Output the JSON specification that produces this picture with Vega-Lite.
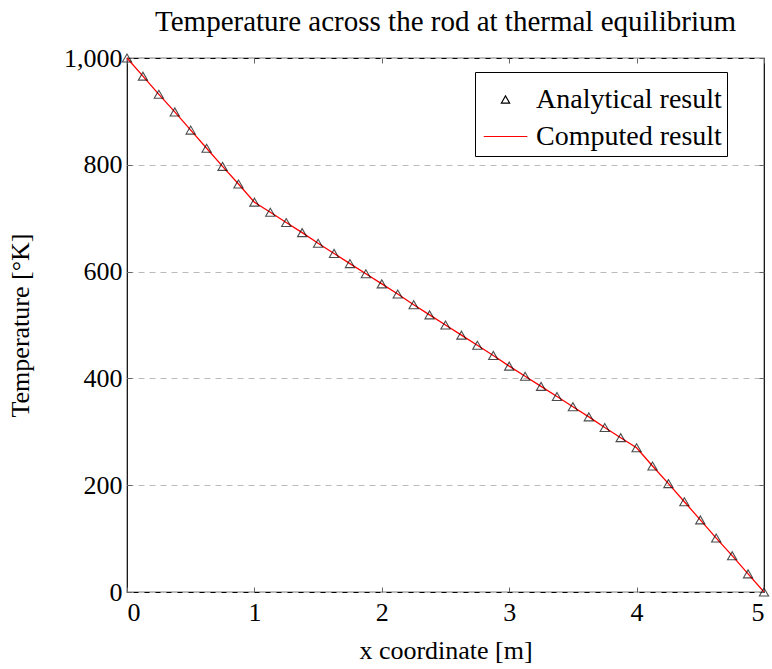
{
  "$schema": "https://vega.github.io/schema/vega-lite/v6.json",
  "autosize": "none",
  "width": 637,
  "height": 534,
  "padding": {"left": 127, "top": 58, "right": 8, "bottom": 77},
  "background": "white",
  "config": {
    "font": "Liberation Serif",
    "view": {"stroke": "black", "strokeWidth": 1.2},
    "axis": {"labelFont": "Liberation Serif", "titleFont": "Liberation Serif", "labelFontSize": 26, "titleFontSize": 26, "titleFontWeight": "normal", "labelColor": "black", "titleColor": "black", "domainColor": "black", "tickColor": "#666666", "tickSize": -5, "labelPadding": 12}
  },
  "title": {"text": "Temperature across the rod at thermal equilibrium", "fontSize": 29, "font": "Liberation Serif", "fontWeight": "normal", "offset": 8, "color": "black"},
  "data": {"values": [
    {"x": 0, "T": 1000}, {"x": 0.125, "T": 966}, {"x": 0.25, "T": 932}, {"x": 0.375, "T": 899}, {"x": 0.5, "T": 865},
    {"x": 0.625, "T": 831}, {"x": 0.75, "T": 797}, {"x": 0.875, "T": 764}, {"x": 1, "T": 730},
    {"x": 1.125, "T": 711}, {"x": 1.25, "T": 692}, {"x": 1.375, "T": 673}, {"x": 1.5, "T": 653},
    {"x": 1.625, "T": 634}, {"x": 1.75, "T": 615}, {"x": 1.875, "T": 596}, {"x": 2, "T": 577},
    {"x": 2.125, "T": 558}, {"x": 2.25, "T": 538}, {"x": 2.375, "T": 519}, {"x": 2.5, "T": 500},
    {"x": 2.625, "T": 481}, {"x": 2.75, "T": 462}, {"x": 2.875, "T": 443}, {"x": 3, "T": 423},
    {"x": 3.125, "T": 404}, {"x": 3.25, "T": 385}, {"x": 3.375, "T": 366}, {"x": 3.5, "T": 347},
    {"x": 3.625, "T": 328}, {"x": 3.75, "T": 308}, {"x": 3.875, "T": 289}, {"x": 4, "T": 270},
    {"x": 4.125, "T": 236}, {"x": 4.25, "T": 203}, {"x": 4.375, "T": 169}, {"x": 4.5, "T": 135},
    {"x": 4.625, "T": 101}, {"x": 4.75, "T": 68}, {"x": 4.875, "T": 34}, {"x": 5, "T": 0}
  ]},
  "resolve": {"axis": {"x": "independent", "y": "independent"}},
  "layer": [
    {
      "mark": {"type": "line", "strokeWidth": 1.3, "clip": false},
      "encoding": {
        "x": {"field": "x", "type": "quantitative", "scale": {"domain": [0, 5], "nice": false},
              "axis": {"orient": "bottom", "values": [0, 1, 2, 3, 4, 5], "title": "x coordinate [m]", "titlePadding": 12, "grid": false, "domain": false}},
        "y": {"field": "T", "type": "quantitative", "scale": {"domain": [0, 1000], "nice": false},
              "axis": {"orient": "left", "values": [0, 200, 400, 600, 800, 1000], "labelExpr": "format(datum.value, ',')", "title": "Temperature [°K]", "titlePadding": 30, "grid": true, "gridDash": [6, 5], "gridColor": "#bbbbbb", "gridWidth": 1, "domain": false, "labelPadding": 10}},
        "color": {"datum": "Computed result", "type": "nominal",
                  "scale": {"domain": ["Analytical result", "Computed result"], "range": ["black", "red"]},
                  "legend": {"title": null, "orient": "none", "legendX": 348, "legendY": 14,
                             "strokeColor": "black", "fillColor": "white", "padding": 5,
                             "labelFontSize": 28, "labelFont": "Liberation Serif", "labelColor": "black", "labelLimit": 500,
                             "labelExpr": "datum.label + '\u00a0\u00a0'",
                             "symbolSize": 600, "symbolOffset": 3, "rowPadding": -7, "labelOffset": 8,
                             "encode": {"symbols": {"update": {
                               "shape": {"signal": "datum.value === 'Analytical result' ? 'triangle-up' : 'stroke'"},
                               "size": {"signal": "datum.value === 'Analytical result' ? 70 : 1900"},
                               "stroke": {"signal": "datum.value === 'Analytical result' ? 'black' : 'red'"},
                               "strokeWidth": {"value": 1.1},
                               "fill": {"value": "transparent"}
                             }}}}}
      }
    },
    {
      "mark": {"type": "point", "shape": "triangle-up", "filled": false, "size": 85, "strokeWidth": 1.1, "clip": false},
      "encoding": {
        "x": {"field": "x", "type": "quantitative",
              "axis": {"orient": "top", "values": [0, 1, 2, 3, 4, 5], "labels": false, "title": null, "grid": false, "domain": false}},
        "y": {"field": "T", "type": "quantitative",
              "axis": {"orient": "right", "values": [0, 200, 400, 600, 800, 1000], "labels": false, "title": null, "grid": false, "domain": false}},
        "color": {"datum": "Analytical result", "type": "nominal"}
      }
    }
  ]
}
